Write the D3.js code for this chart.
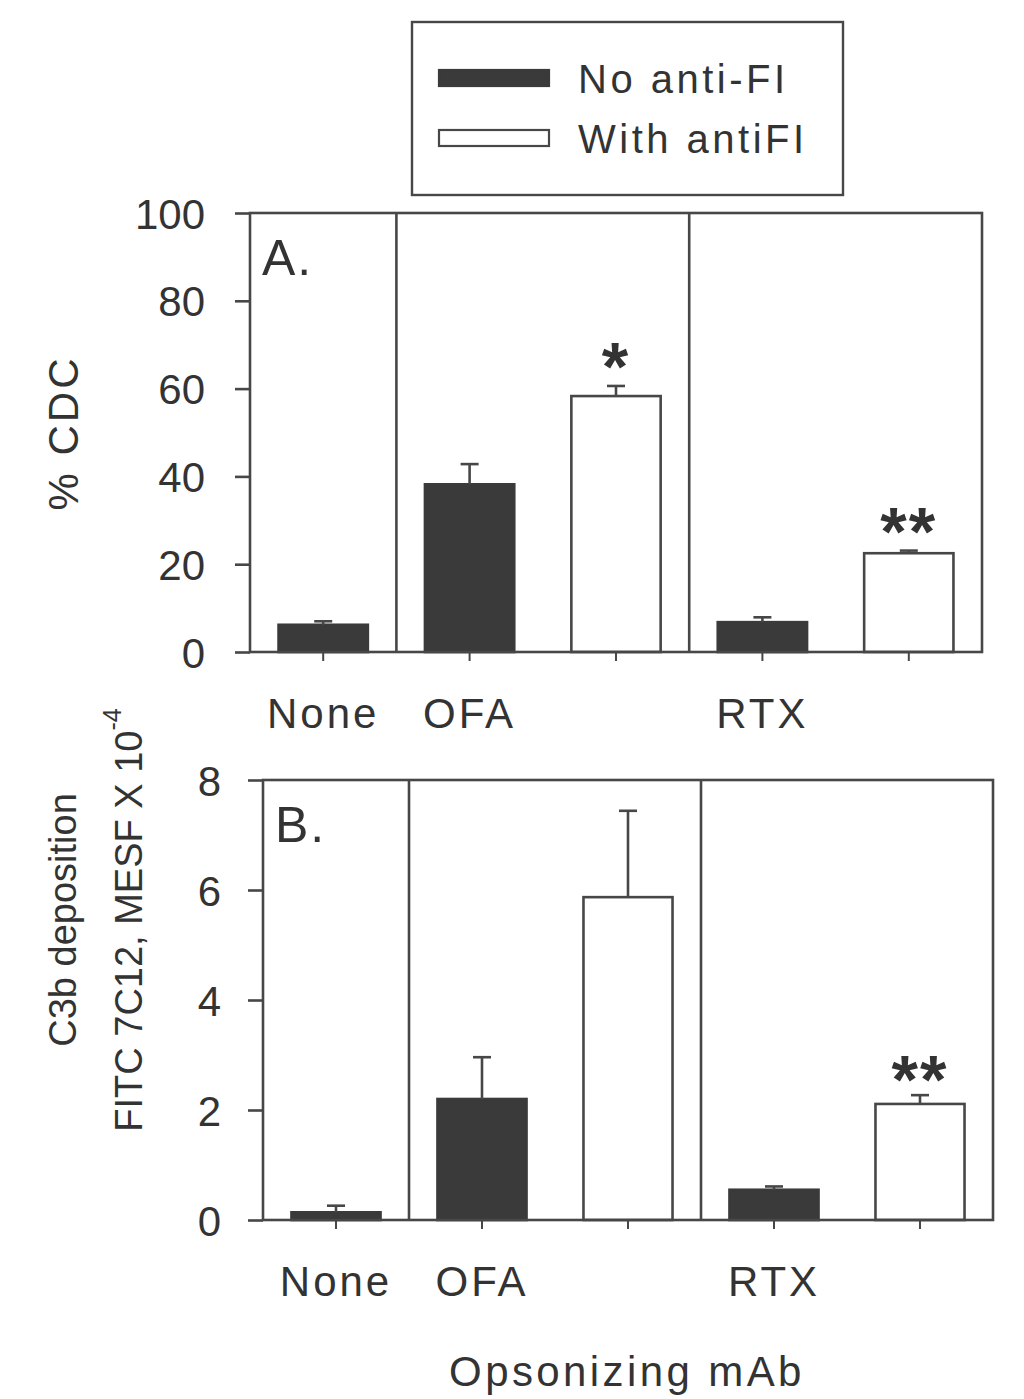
<!DOCTYPE html>
<html>
<head>
<meta charset="utf-8">
<script src="https://cdn.jsdelivr.net/npm/d3@7"></script>
<style>
  html, body { margin: 0; padding: 0; background: #ffffff; }
  svg { display: block; }
  text { font-family: "Liberation Sans", Arial, Helvetica, sans-serif; fill: #333333; }
</style>
</head>
<body>
<svg id="chart" width="1024" height="1399"></svg>
<script>
// ---------- data ----------
const seriesNames = ["No anti-FI", "With antiFI"];
const slotLabels = ["None", "OFA", "", "RTX", ""];
const slotSeries = [0, 0, 1, 0, 1];

const cdcMean = [6.2, 38.2, 58.3, 6.8, 22.5];
const cdcErr  = [0.8, 4.6, 2.3, 1.1, 0.6];
const cdcSig  = ["", "", "*", "", "**"];

const c3bMean = [0.14, 2.2, 5.87, 0.55, 2.11];
const c3bErr  = [0.12, 0.76, 1.57, 0.06, 0.16];
const c3bSig  = ["", "", "", "", "**"];

const cdcTicks = [0, 20, 40, 60, 80, 100];
const c3bTicks = [0, 2, 4, 6, 8];

const dividersAfter = [0, 2];

// ---------- style ----------
const DARK = "#3a3a3a";
const LINE = "#474747";
const LW = 2.6;

const svg = d3.select("#chart");

function panel(cfg) {
  const g = svg.append("g");
  const x = d3.scaleBand()
    .domain(d3.range(slotLabels.length))
    .range([cfg.left, cfg.right])
    .paddingInner(0.39)
    .paddingOuter(0.195);
  const y = d3.scaleLinear().domain(cfg.domain).range([cfg.bottom, cfg.top]);
  const step = x.step();
  const cx = i => x(i) + x.bandwidth() / 2;

  // y axis
  const ya = g.append("g")
    .attr("transform", `translate(${cfg.left},0)`)
    .call(d3.axisLeft(y).tickValues(cfg.ticks).tickSize(15).tickSizeOuter(0).tickPadding(cfg.tickPad));
  ya.select(".domain").remove();
  ya.selectAll(".tick line").attr("stroke", LINE).attr("stroke-width", LW);
  ya.selectAll(".tick text")
    .style("font-size", "42px").attr("fill", "#333").attr("dy", "0.36em");

  // x axis ticks (down)
  const xa = g.append("g")
    .attr("transform", `translate(0,${cfg.bottom})`)
    .call(d3.axisBottom(x).tickSize(9).tickSizeOuter(0).tickFormat(""));
  xa.select(".domain").remove();
  xa.selectAll(".tick line").attr("stroke", LINE).attr("stroke-width", 2);

  // x labels
  g.selectAll("text.xl").data(slotLabels.map((l, i) => ({ l, i })).filter(d => d.l))
    .join("text").attr("class", "xl")
    .attr("x", d => cx(d.i)).attr("y", cfg.xLabelY)
    .attr("text-anchor", "middle")
    .style("font-size", "42px").style("letter-spacing", "3px")
    .text(d => d.l);

  // bars
  g.selectAll("rect.bar").data(cfg.mean.map((m, i) => ({ m, i })))
    .join("rect").attr("class", "bar")
    .attr("x", d => x(d.i)).attr("width", x.bandwidth())
    .attr("y", d => y(d.m)).attr("height", d => y(cfg.domain[0]) - y(d.m))
    .attr("fill", d => slotSeries[d.i] === 0 ? DARK : "#ffffff")
    .attr("stroke", d => slotSeries[d.i] === 0 ? DARK : LINE)
    .attr("stroke-width", LW);

  // error bars (upper)
  const eb = g.selectAll("g.eb").data(cfg.mean.map((m, i) => ({ m, e: cfg.err[i], i })))
    .join("g").attr("class", "eb");
  eb.append("line")
    .attr("x1", d => cx(d.i)).attr("x2", d => cx(d.i))
    .attr("y1", d => y(d.m)).attr("y2", d => y(d.m + d.e))
    .attr("stroke", LINE).attr("stroke-width", LW);
  eb.append("line")
    .attr("x1", d => cx(d.i) - 9).attr("x2", d => cx(d.i) + 9)
    .attr("y1", d => y(d.m + d.e)).attr("y2", d => y(d.m + d.e))
    .attr("stroke", LINE).attr("stroke-width", LW);

  // significance
  g.selectAll("text.sig").data(cfg.sig.map((s, i) => ({ s, i, v: cfg.mean[i] + cfg.err[i] })).filter(d => d.s))
    .join("text").attr("class", "sig")
    .attr("x", d => cx(d.i)).attr("y", d => y(d.v) + cfg.sigOff)
    .attr("text-anchor", "middle")
    .style("font-size", "68px").style("font-weight", "bold").style("letter-spacing", "2px")
    .text(d => d.s);

  // dividers
  dividersAfter.forEach(k => {
    const xv = x(k) + x.bandwidth() / 2 + step / 2;
    g.append("line").attr("x1", xv).attr("x2", xv)
      .attr("y1", cfg.top).attr("y2", cfg.bottom)
      .attr("stroke", LINE).attr("stroke-width", LW);
  });

  // frame
  g.append("rect")
    .attr("x", cfg.left).attr("y", cfg.top)
    .attr("width", cfg.right - cfg.left).attr("height", cfg.bottom - cfg.top)
    .attr("fill", "none").attr("stroke", LINE).attr("stroke-width", LW);

  // panel letter
  g.append("text")
    .attr("x", cfg.left + 12).attr("y", cfg.top + 62)
    .style("font-size", "50px").style("letter-spacing", "2px")
    .text(cfg.letter);
  return { x, y };
}

panel({ left: 250, right: 982, top: 213, bottom: 652, domain: [0, 100], ticks: cdcTicks,
  mean: cdcMean, err: cdcErr, sig: cdcSig, letter: "A.", xLabelY: 728, tickPad: 30, sigOff: 4 });
panel({ left: 263, right: 993, top: 780, bottom: 1220, domain: [0, 8], ticks: c3bTicks,
  mean: c3bMean, err: c3bErr, sig: c3bSig, letter: "B.", xLabelY: 1296, tickPad: 27, sigOff: 8 });

// y labels
svg.append("text")
  .attr("transform", "translate(78,433) rotate(-90)")
  .attr("text-anchor", "middle")
  .style("font-size", "42px").style("letter-spacing", "3px")
  .text("% CDC");
svg.append("text")
  .attr("transform", "translate(76,920) rotate(-90)")
  .attr("text-anchor", "middle")
  .style("font-size", "38px")
  .text("C3b deposition");
const fl = svg.append("text")
  .attr("transform", "translate(142,920) rotate(-90)")
  .attr("text-anchor", "middle")
  .style("font-size", "38px");
fl.append("tspan").text("FITC 7C12, MESF X 10");
fl.append("tspan").attr("dy", -21).style("font-size", "25px").text("-4");

// x title
svg.append("text")
  .attr("x", 627).attr("y", 1386)
  .attr("text-anchor", "middle")
  .style("font-size", "42px").style("letter-spacing", "3.4px")
  .text("Opsonizing mAb");

// legend
const lg = svg.append("g");
lg.append("rect").attr("x", 412).attr("y", 22).attr("width", 431).attr("height", 173)
  .attr("fill", "#fff").attr("stroke", LINE).attr("stroke-width", 2.4);
const legY = [78, 138];
lg.selectAll("rect.sw").data(seriesNames.map((n, i) => ({ n, i })))
  .join("rect").attr("class", "sw")
  .attr("x", 439).attr("y", d => legY[d.i] - 8).attr("width", 110).attr("height", 16)
  .attr("fill", d => d.i === 0 ? DARK : "#fff")
  .attr("stroke", d => d.i === 0 ? DARK : LINE).attr("stroke-width", 2.2);
lg.selectAll("text.lt").data(seriesNames.map((n, i) => ({ n, i })))
  .join("text").attr("class", "lt")
  .attr("x", 578).attr("y", d => legY[d.i] + 15)
  .style("font-size", "40px").style("letter-spacing", "3.5px")
  .text(d => d.n);
</script>
</body>
</html>
